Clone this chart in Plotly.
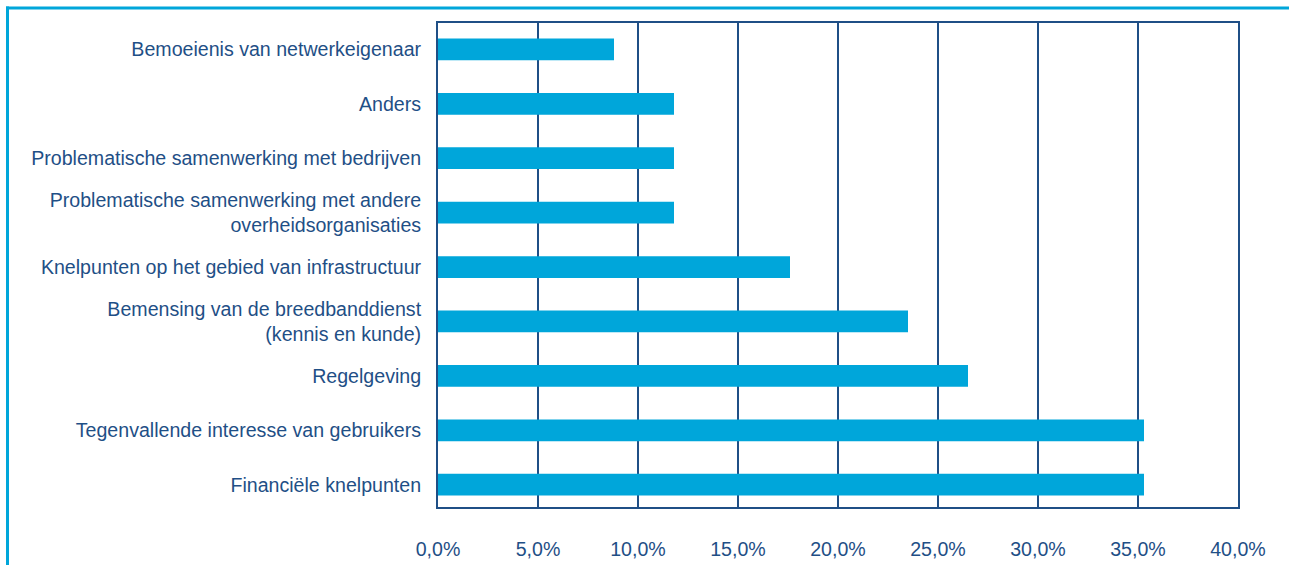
import plotly.graph_objects as go

categories = [
    "Financiële knelpunten",
    "Tegenvallende interesse van gebruikers",
    "Regelgeving",
    "Bemensing van de breedbanddienst<br>(kennis en kunde)",
    "Knelpunten op het gebied van infrastructuur",
    "Problematische samenwerking met andere<br>overheidsorganisaties",
    "Problematische samenwerking met bedrijven",
    "Anders",
    "Bemoeienis van netwerkeigenaar",
]
values = [35.3, 35.3, 26.5, 23.5, 17.6, 11.8, 11.8, 11.8, 8.8]
tick_vals = [0, 5, 10, 15, 20, 25, 30, 35, 40]
tick_text = ["0,0%", "5,0%", "10,0%", "15,0%", "20,0%", "25,0%", "30,0%", "35,0%", "40,0%"]

navy = "#1f4f86"
cyan = "#00a6da"

fig = go.Figure(go.Bar(
    x=values, y=categories, orientation="h",
    marker=dict(color=cyan, line=dict(width=0)),
    width=0.4,
))

fig.update_layout(
    width=1289, height=565,
    margin=dict(l=438, r=51, t=23, b=58, autoexpand=False),
    paper_bgcolor="white", plot_bgcolor="white",
    font=dict(family="Liberation Sans, Arial, sans-serif", size=19.6, color=navy),
    showlegend=False,
)
fig.update_xaxes(
    range=[0, 40], tickvals=tick_vals, ticktext=tick_text,
    showgrid=True, gridcolor=navy, gridwidth=2,
    showline=True, linecolor=navy, linewidth=2, mirror=True,
    zeroline=False, ticks="", ticklabelstandoff=23,
    tickfont=dict(size=19.6),
)
fig.update_yaxes(
    showgrid=False, showline=True, linecolor=navy, linewidth=2, mirror=True,
    ticks="", ticklabelstandoff=11, range=[-0.41, 8.485],
)
fx = lambda px: (px - 438) / 800
fy = lambda py: (507 - py) / 484
fig.update_layout(shapes=[
    dict(type="line", xref="paper", yref="paper",
         x0=fx(6), x1=fx(1300), y0=fy(8), y1=fy(8),
         line=dict(color=cyan, width=3)),
    dict(type="line", xref="paper", yref="paper",
         x0=fx(7.5), x1=fx(7.5), y0=fy(6.5), y1=fy(580),
         line=dict(color=cyan, width=3)),
])

fig.write_html("out.html", config={"displayModeBar": False},
               post_script="document.body.style.margin='0px';")
